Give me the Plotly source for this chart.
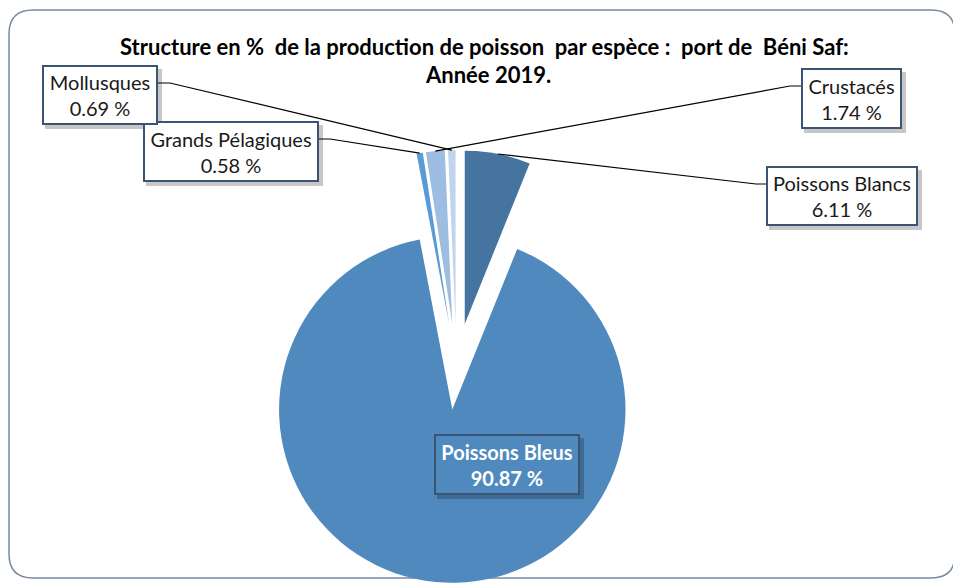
import math
import plotly.graph_objects as go

W, H = 961, 583
OFF = 8  # default body margin of the html page
FW, FH = W - OFF, H - OFF

# data (clockwise from 12 o'clock)
categories = ["Poissons Blancs", "Poissons Bleus", "Grands Pélagiques", "Crustacés", "Mollusques"]
shares = [6.11, 90.87, 0.58, 1.74, 0.69]
colors = ["#44749F", "#4F89BD", "#5B9BD5", "#9DBEE2", "#C0D4EC"]

title_l1 = "Structure en %  de la production de poisson  par espèce :  port de  Béni Saf:"
title_l2 = "Année 2019."

# label boxes (left, top, right, bottom) in screen pixels, and where the leader leaves the box
boxes = {
    "Mollusques": ((42, 65, 158, 125), (158, 83), (170, 83)),
    "Grands Pélagiques": ((143, 121, 319, 182), (319, 139), (330, 139)),
    "Crustacés": ((801, 68, 902, 129), (801, 86), (790, 86)),
    "Poissons Blancs": ((766, 166, 918, 226), (766, 184), (756, 184)),
    "Poissons Bleus": ((434, 434, 580, 495), None, None),
}

pull = 0.25
pie_cx, pie_h = 456.5, 433
dom_y = [0.0, pie_h / FH]
dom_x = [(pie_cx - OFF) / FW - 0.3, (pie_cx - OFF) / FW + 0.3]


def px(x):
    return (x - OFF) / FW


def py(y):
    return 1 - (y - OFF) / FH


fig = go.Figure(go.Pie(
    labels=categories, values=shares, sort=False, direction="clockwise", rotation=0,
    pull=[pull] * len(shares), marker=dict(colors=colors, line=dict(width=0)),
    textinfo="none", showlegend=False, domain=dict(x=dom_x, y=dom_y),
))

# pie geometry (same as plotly's layout of the pie) to place leader lines
cx = OFF + FW * (dom_x[0] + dom_x[1]) / 2
cy = OFF + FH * (1 - (dom_y[0] + dom_y[1]) / 2)
r = min(FW * (dom_x[1] - dom_x[0]), FH * (dom_y[1] - dom_y[0])) / 2 / (1 + pull)
total = sum(shares)

shapes = []
annotations = []

# frame
x0, y0, x1, y1, rr = 9, 10, 955, 578, 24
frame = (f"M {px(x0 + rr)} {py(y0)} L {px(x1 - rr)} {py(y0)} Q {px(x1)} {py(y0)} {px(x1)} {py(y0 + rr)} "
         f"L {px(x1)} {py(y1 - rr)} Q {px(x1)} {py(y1)} {px(x1 - rr)} {py(y1)} "
         f"L {px(x0 + rr)} {py(y1)} Q {px(x0)} {py(y1)} {px(x0)} {py(y1 - rr)} "
         f"L {px(x0)} {py(y0 + rr)} Q {px(x0)} {py(y0)} {px(x0 + rr)} {py(y0)} Z")
shapes.append(dict(type="path", path=frame, xref="paper", yref="paper",
                   line=dict(color="#7A8AA3", width=1.5), layer="below"))

start = 0
for name, val in zip(categories, shares):
    ang = 360 * val / total
    mid = math.radians(start + ang / 2)
    start += ang
    (l, t, rgt, b), edge, elbow = boxes[name]
    if edge is not None:
        ex = cx + r * (1 + pull) * math.sin(mid)
        ey = cy - r * (1 + pull) * math.cos(mid)
        shapes.append(dict(type="path", xref="paper", yref="paper", layer="above",
                           path=f"M {px(edge[0])} {py(edge[1])} L {px(elbow[0])} {py(elbow[1])} L {px(ex)} {py(ey)}",
                           line=dict(color="black", width=1.2)))
    # shadow
    shapes.append(dict(type="rect", xref="paper", yref="paper", layer="above",
                       x0=px(l + 3), x1=px(rgt + 4), y0=py(t + 4), y1=py(b + 4),
                       fillcolor="rgba(0,0,0,0.22)", line=dict(width=0)))
    big = name == "Poissons Bleus"
    annotations.append(dict(
        x=px((l + rgt) / 2), y=py((t + b) / 2), xref="paper", yref="paper",
        xanchor="center", yanchor="middle",
        text=f"<b>{name}<br>{val:.2f} %</b>" if big else f"{name}<br>{val:.2f} %",
        showarrow=False, width=rgt - l - 4, height=b - t - 4, borderpad=0, borderwidth=2,
        bordercolor="#3C5474", bgcolor="#4F89BD" if big else "white",
        font=dict(family="Lato", size=20, color="white" if big else "#1a1a1a"),
        align="center", valign="middle",
    ))

annotations.append(dict(x=px(484), y=py(47), xref="paper", yref="paper", showarrow=False,
                        xanchor="center", yanchor="middle",
                        text=f"<b>{title_l1}</b>", font=dict(family="Lato", size=22, color="black")))
annotations.append(dict(x=px(488), y=py(75), xref="paper", yref="paper", showarrow=False,
                        xanchor="center", yanchor="middle",
                        text=f"<b>{title_l2}</b>", font=dict(family="Lato", size=22, color="black")))

fig.update_layout(
    width=FW, height=FH, margin=dict(l=0, r=0, t=0, b=0),
    paper_bgcolor="white", plot_bgcolor="white",
    shapes=shapes, annotations=annotations,
)

fig.write_html("out.html")
